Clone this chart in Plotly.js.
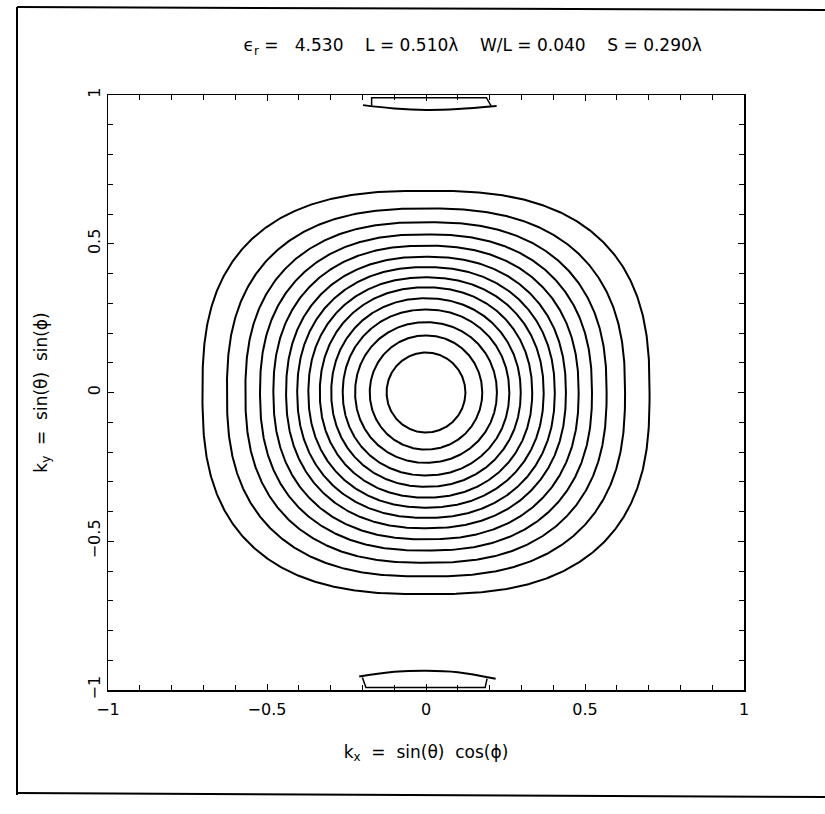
<!DOCTYPE html>
<html>
<head>
<meta charset="utf-8">
<script src="https://cdn.plot.ly/plotly-3.0.1.min.js"></script>
<style>body{margin:0;background:#fff}</style>
</head>
<body>
<div id="chart" style="width:825px;height:814px"></div>
<script>
// Contour half-widths along kx, half-heights along ky (inner -> outer), and squareness exponent
const contourHalfX = [0.124, 0.177, 0.223, 0.262, 0.298, 0.334, 0.370, 0.405, 0.440, 0.480, 0.522, 0.568, 0.626, 0.703];
const contourHalfY = [0.1345, 0.192, 0.2365, 0.279, 0.317, 0.3535, 0.387, 0.4215, 0.4565, 0.4935, 0.5315, 0.5725, 0.6185, 0.678];
const contourShape = [2.0, 2.02, 2.05, 2.08, 2.1, 2.14, 2.18, 2.22, 2.27, 2.32, 2.38, 2.45, 2.53, 2.65];

// Small contour near ky = +1
const topCurveX = [-0.198, -0.1, 0.0, 0.1, 0.222];
const topCurveY = [0.966, 0.955, 0.950, 0.953, 0.963];
const topEdgeX = [0.205, 0.190, -0.171, -0.171];
const topEdgeY = [0.963, 0.991, 0.991, 0.964];

// Small contour near ky = -1
const bottomCurveX = [-0.210, -0.1, 0.0, 0.1, 0.219];
const bottomCurveY = [-0.955, -0.939, -0.935, -0.940, -0.962];
const bottomEdgeX = [-0.200, -0.189, 0.186, 0.192];
const bottomEdgeY = [-0.958, -0.992, -0.992, -0.962];

const tickVals = [-1, -0.5, 0, 0.5, 1];
const tickText = ['\u22121', '\u22120.5', '0', '0.5', '1'];

function closedCurve(a, b, n) {
  const xs = [], ys = [];
  for (let i = 0; i <= 720; i++) {
    const t = i * Math.PI / 360;
    const c = Math.cos(t), s = Math.sin(t);
    xs.push(a * Math.sign(c) * Math.pow(Math.abs(c), 2 / n));
    ys.push(b * Math.sign(s) * Math.pow(Math.abs(s), 2 / n));
  }
  return {xs, ys};
}

const lineStyle = {color: '#000', width: 2};
const traces = [];
for (let k = 0; k < contourHalfX.length; k++) {
  const c = closedCurve(contourHalfX[k], contourHalfY[k], contourShape[k]);
  traces.push({x: c.xs, y: c.ys, mode: 'lines', line: lineStyle, hoverinfo: 'skip', showlegend: false});
}
traces.push({x: topCurveX, y: topCurveY, mode: 'lines', line: {color: '#000', width: 2, shape: 'spline'}, showlegend: false});
traces.push({x: topEdgeX, y: topEdgeY, mode: 'lines', line: {color: '#000', width: 1.5}, showlegend: false});
traces.push({x: bottomCurveX, y: bottomCurveY, mode: 'lines', line: {color: '#000', width: 2, shape: 'spline'}, showlegend: false});
traces.push({x: bottomEdgeX, y: bottomEdgeY, mode: 'lines', line: {color: '#000', width: 1.5}, showlegend: false});

const fontFam = 'DejaVu Sans, Verdana, sans-serif';
const axisCommon = {
  range: [-1, 1], showgrid: false, zeroline: false,
  showline: true, linecolor: '#000', linewidth: 1.5, mirror: 'allticks',
  ticks: 'inside', ticklen: 6, tickwidth: 1, tickcolor: '#000',
  tickvals: tickVals, ticktext: tickText,
  minor: {ticks: 'inside', dtick: 0.1, ticklen: 5, tickwidth: 1, tickcolor: '#000'},
  tickfont: {family: fontFam, size: 16, color: '#000'},
  fixedrange: true
};

const px = v => (v - 108) / 636, py = v => (690 - v) / 595;
const sp = '\u00a0';
const layout = {
  width: 825, height: 814,
  margin: {l: 108, r: 81, t: 95, b: 124},
  paper_bgcolor: '#fff', plot_bgcolor: '#fff',
  font: {family: fontFam, color: '#000'},
  title: {
    text: 'ϵ<sub>r</sub> =' + sp + sp + ' 4.530' + sp + sp + sp + ' L = 0.510λ' + sp + sp + sp + ' W/L = 0.040' + sp + sp + sp + ' S = 0.290λ',
    font: {family: fontFam, size: 17, color: '#000'},
    xref: 'container', yref: 'container', x: 0.573, xanchor: 'center', y: 1 - 45 / 814, yanchor: 'middle'
  },
  xaxis: Object.assign({}, axisCommon, {
    ticklabelstandoff: 4,
    title: {text: 'k<sub>x</sub> ' + sp + '=' + sp + ' sin(θ)' + sp + ' cos(ϕ)', font: {family: fontFam, size: 17, color: '#000'}, standoff: 28}
  }),
  yaxis: Object.assign({}, axisCommon, {
    tickangle: -90,
    title: {text: 'k<sub>y</sub> ' + sp + '=' + sp + ' sin(θ)' + sp + ' sin(ϕ)', font: {family: fontFam, size: 17, color: '#000'}, standoff: 33}
  }),
  shapes: [
    {type: 'line', xref: 'paper', yref: 'paper', x0: px(17), y0: py(7), x1: px(17), y1: py(795), line: {color: '#000', width: 2}},
    {type: 'line', xref: 'paper', yref: 'paper', x0: px(17), y0: py(7), x1: px(825), y1: py(10), line: {color: '#000', width: 2}},
    {type: 'line', xref: 'paper', yref: 'paper', x0: px(17), y0: py(793), x1: px(825), y1: py(797), line: {color: '#000', width: 2}}
  ],
  showlegend: false
};

Plotly.newPlot('chart', traces, layout, {staticPlot: true, displayModeBar: false});
</script>
</body>
</html>
